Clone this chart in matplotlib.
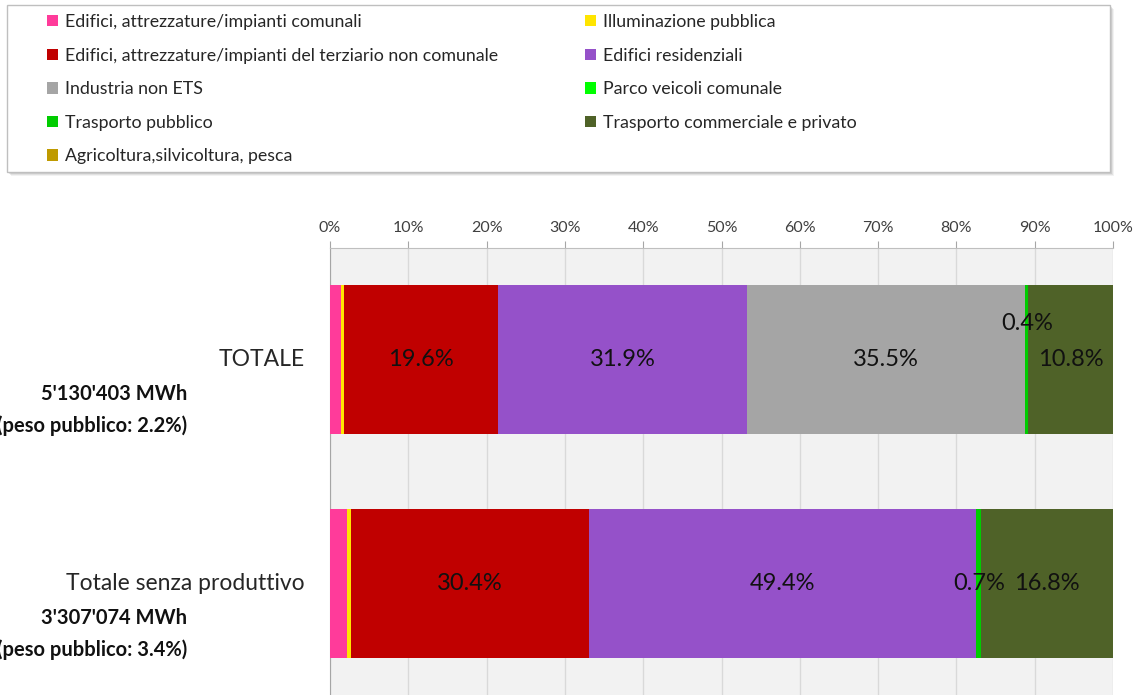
import matplotlib
matplotlib.use("Agg")
import matplotlib.pyplot as plt
from matplotlib.patches import Patch, Rectangle
from matplotlib.ticker import FuncFormatter

categories = ["TOTALE", "Totale senza produttivo"]
totals = ["5'130'403 MWh", "3'307'074 MWh"]
pubblico = ["(peso pubblico: 2.2%)", "(peso pubblico: 3.4%)"]

series_names = [
    "Edifici, attrezzature/impianti comunali",
    "Illuminazione pubblica",
    "Edifici, attrezzature/impianti del terziario non comunale",
    "Edifici residenziali",
    "Industria non ETS",
    "Parco veicoli comunale",
    "Trasporto pubblico",
    "Trasporto commerciale e privato",
    "Agricoltura,silvicoltura, pesca",
]
colors = ["#FF3B9A", "#FFE500", "#C00000", "#9551C9", "#A5A5A5",
          "#00FF00", "#00CC00", "#4F6228", "#BF9A00"]

# percentages per series: [TOTALE, Totale senza produttivo]
values = [
    [1.4, 2.2],
    [0.4, 0.5],
    [19.6, 30.4],
    [31.9, 49.4],
    [35.5, 0.0],
    [0.0, 0.0],
    [0.4, 0.7],
    [10.8, 16.8],
    [0.0, 0.0],
]
show_label = [False, False, True, True, True, False, True, True, False]

plt.rcParams["font.family"] = ["Lato", "DejaVu Sans"]

W, H = 1145, 695
fig = plt.figure(figsize=(W / 100, H / 100), dpi=100)

ax = fig.add_axes([330 / W, 0.0, (1113 - 330) / W, 1 - 248 / H])
ax.set_facecolor("#F2F2F2")
ax.set_xlim(0, 100)
ax.set_ylim(1.5, -0.5)

y = list(range(len(categories)))
left = [0.0] * len(categories)
for name, col, vals, lab in zip(series_names, colors, values, show_label):
    bars = ax.barh(y, vals, left=left, height=0.667, color=col, edgecolor="none", zorder=3)
    if lab:
        for i, (b, v) in enumerate(zip(bars, vals)):
            if v <= 0:
                continue
            cx = left[i] + v / 2
            dy = 0
            if name == "Trasporto pubblico" and i == 0:
                dy = 26
            ax.annotate(f"{v:.1f}%", (cx, i), xytext=(0, dy), textcoords="offset points",
                        ha="center", va="center", fontsize=17, color="#111111", zorder=5)
    left = [l + v for l, v in zip(left, vals)]

ax.xaxis.tick_top()
ax.set_xticks(range(0, 101, 10))
ax.xaxis.set_major_formatter(FuncFormatter(lambda v, p: f"{int(v)}%"))
ax.tick_params(axis="x", colors="#A6A6A6", labelcolor="#404040", labelsize=11.5, length=5, pad=4)
ax.set_yticks([])
ax.grid(axis="x", color="#D9D9D9", linewidth=1, zorder=1)
for s in ["right", "bottom"]:
    ax.spines[s].set_visible(False)
ax.spines["left"].set_color("#A6A6A6")
ax.spines["top"].set_color("#BFBFBF")

# category labels
for i, (c, t, p) in enumerate(zip(categories, totals, pubblico)):
    ax.text(-3.2, i, c, ha="right", va="center", fontsize=16.5, color="#262626",
            transform=ax.transData)
    yc = 1 - (361 + 223.5 * i) / H
    fig.text(187 / W, yc - 33 / H, t, ha="right", va="center", fontsize=14.5,
             fontweight="bold", color="#111111")
    fig.text(187 / W, yc - 65 / H, p, ha="right", va="center", fontsize=14.5,
             fontweight="bold", color="#111111")

# legend (two columns, row-major order)
handles = [Patch(facecolor=c, edgecolor="none") for c in colors]
col_items = [[0, 2, 4, 6, 8], [1, 3, 5, 7]]
col_x = [47, 585]
for items, x0 in zip(col_items, col_x):
    lg = fig.legend([handles[k] for k in items], [series_names[k] for k in items],
                    ncol=1, loc="upper left", bbox_to_anchor=(x0 / W, 1 - 14 / H),
                    frameon=False, fontsize=12.8, handlelength=0.6, handleheight=0.6,
                    handletextpad=0.42, labelspacing=0.99, borderpad=0.0,
                    borderaxespad=0.0, labelcolor="#262626")
    lg.set_zorder(5)

# legend frame with soft shadow
for k, a in [(4, 0.10), (3, 0.15), (2, 0.2)]:
    fig.patches.append(Rectangle(((7 + k) / W, 1 - (172 + k) / H), 1103 / W, 167 / H,
                                 transform=fig.transFigure, facecolor="#808080",
                                 edgecolor="none", alpha=a, zorder=0))
fig.patches.append(Rectangle((7 / W, 1 - 172 / H), 1103 / W, 167 / H,
                             transform=fig.transFigure, facecolor="white",
                             edgecolor="#BFBFBF", linewidth=1, zorder=1))

fig.savefig("out.png", dpi=100)
